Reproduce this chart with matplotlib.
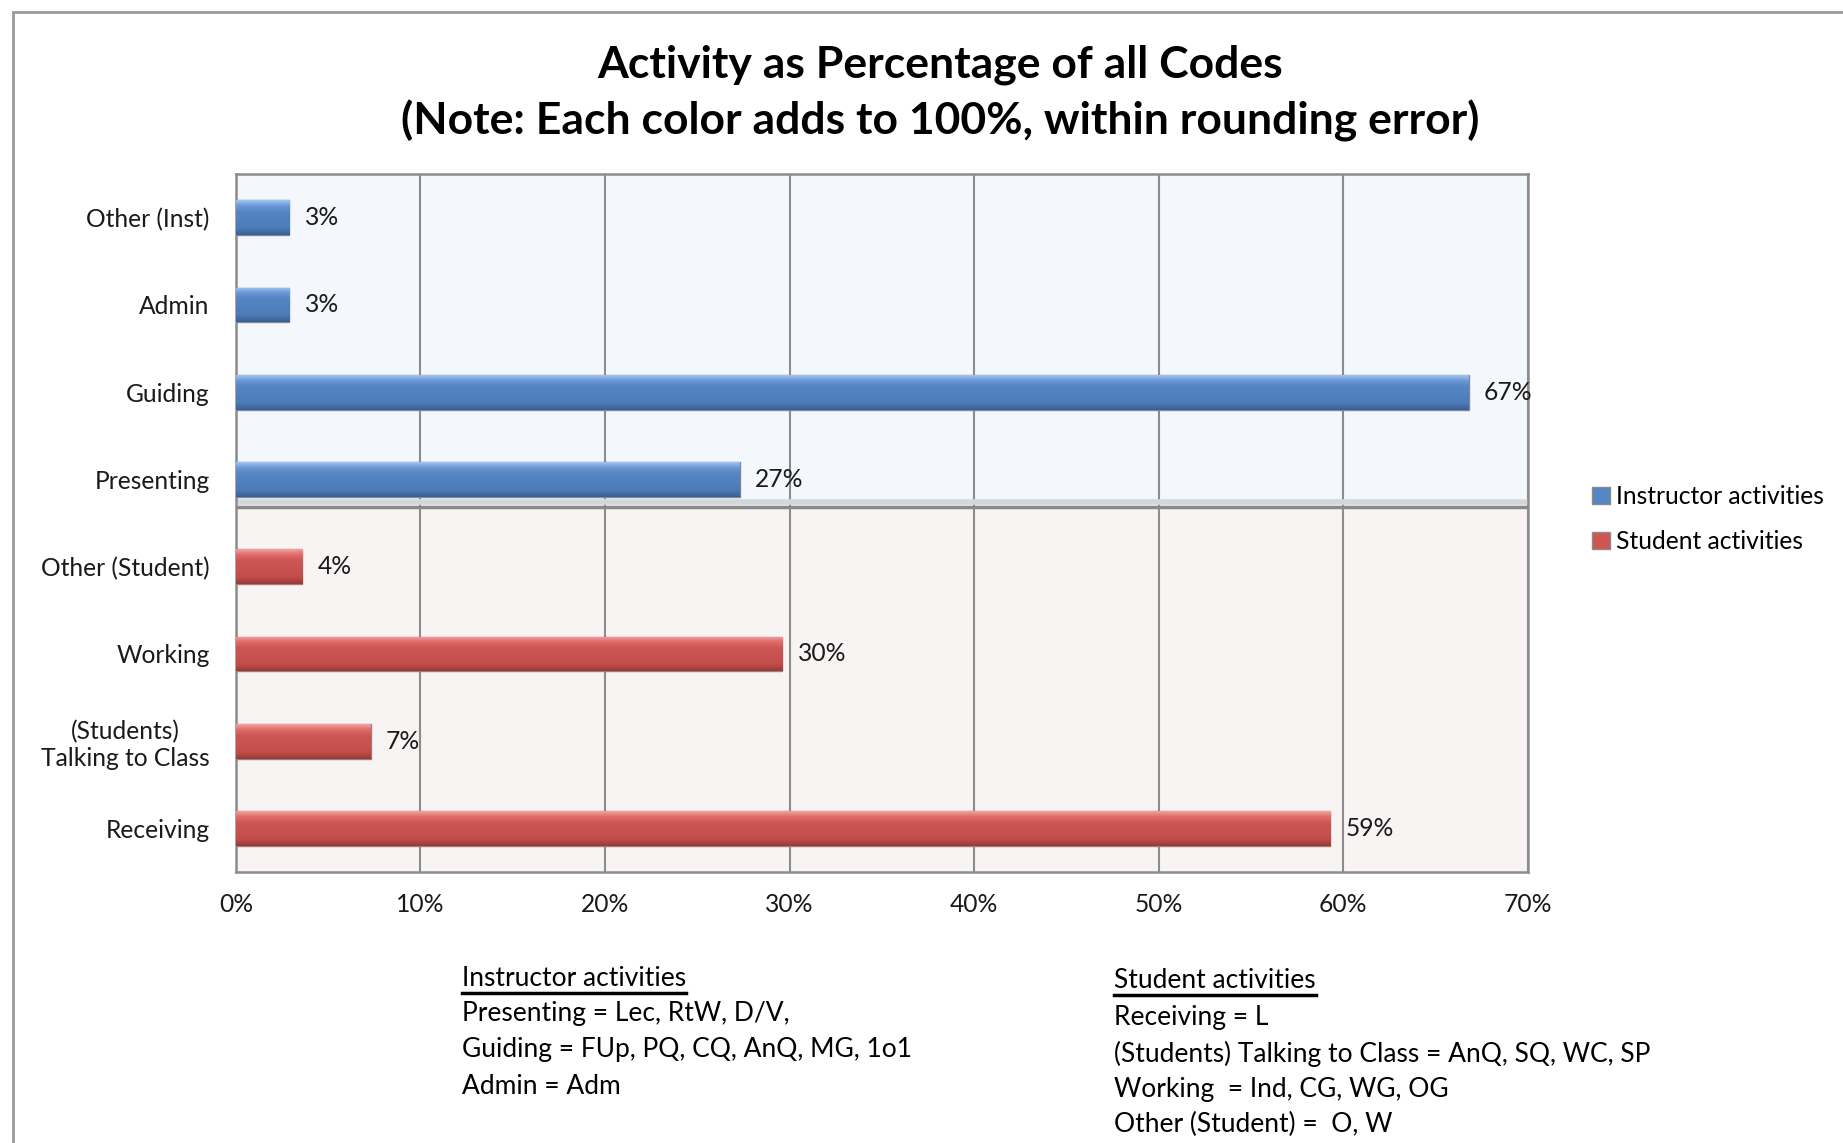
import numpy as np
import matplotlib
matplotlib.use("Agg")
import matplotlib.pyplot as plt
from matplotlib.colors import LinearSegmentedColormap
from matplotlib.patches import Rectangle
from matplotlib.lines import Line2D

plt.rcParams['font.family'] = ['Lato', 'DejaVu Sans']

# categories, bottom to top
categories = ['Receiving', '(Students)\nTalking to Class', 'Working', 'Other (Student)',
              'Presenting', 'Guiding', 'Admin', 'Other (Inst)']
student_values = [59.3, 7.3, 29.6, 3.6]        # Receiving .. Other (Student)
instructor_values = [27.3, 66.8, 2.9, 2.9]     # Presenting .. Other (Inst)
x_ticks = [0, 10, 20, 30, 40, 50, 60, 70]
x_tick_labels = [f'{t}%' for t in x_ticks]

title_lines = ['Activity as Percentage of all Codes',
               '(Note: Each color adds to 100%, within rounding error)']
inst_notes = ['Presenting = Lec, RtW, D/V,',
              'Guiding = FUp, PQ, CQ, AnQ, MG, 1o1',
              'Admin = Adm']
stud_notes = ['Receiving = L',
              '(Students) Talking to Class = AnQ, SQ, WC, SP',
              'Working  = Ind, CG, WG, OG',
              'Other (Student) =  O, W']

fs = 17.7

fig = plt.figure(figsize=(18.43, 11.43), dpi=100)
ax = fig.add_axes([0.128, 0.237, 0.701, 0.6107])

n_s = len(student_values)
y_student = np.arange(n_s)
y_inst = np.arange(n_s, n_s + len(instructor_values))
sep = n_s - 0.315

# backgrounds
ax.axhspan(-0.5, sep, color='#f8f4f4', zorder=0)
ax.axhspan(sep, len(categories) - 0.5, color='#f4f7fb', zorder=0)

bar_h = 0.4
b_inst = ax.barh(y_inst, instructor_values, height=bar_h, color='#5585c5',
                 edgecolor='#7f8a99', linewidth=1.0, zorder=3, label='Instructor activities')
b_stud = ax.barh(y_student, student_values, height=bar_h, color='#cd5553',
                 edgecolor='#9a7f7e', linewidth=1.0, zorder=3, label='Student activities')

# glossy vertical shading clipped to each bar
cm_blue = LinearSegmentedColormap.from_list('b', [(0, '#9fc4ee'), (0.16, '#6a98d6'), (0.33, '#5585c3'),
                                                   (0.8, '#4d7cb9'), (1, '#3a6094')])
cm_red = LinearSegmentedColormap.from_list('r', [(0, '#f3a09e'), (0.16, '#e06b68'), (0.33, '#cd5654'),
                                                  (0.8, '#c24e4b'), (1, '#983a38')])
grad = np.linspace(0, 1, 64).reshape(-1, 1)
for bars, cm in [(b_inst, cm_blue), (b_stud, cm_red)]:
    for p in bars.patches:
        x0, y0, w, h = p.get_x(), p.get_y(), p.get_width(), p.get_height()
        im = ax.imshow(grad, cmap=cm, extent=[x0, x0 + w, y0, y0 + h], aspect='auto',
                       origin='upper', zorder=3.5)
        im.set_clip_path(p)
    ax.bar_label(bars, labels=[f'{v:.0f}%' for v in bars.datavalues], padding=11,
                 fontsize=fs, color='#1a1a1a', zorder=5)

# separator "floor"
ax.axhline(sep + 0.06, color='#d3d7dc', lw=4, zorder=2)
ax.axhline(sep, color='#8a8a8a', lw=2.5, zorder=2)

ax.set_xlim(0, 70)
ax.set_ylim(-0.5, len(categories) - 0.5)
ax.set_xticks(x_ticks)
ax.set_xticklabels(x_tick_labels)
ax.set_yticks(np.arange(len(categories)))
ax.set_yticklabels(categories, linespacing=1.2)
ax.tick_params(axis='both', length=0, labelsize=fs, colors='#1a1a1a')
ax.tick_params(axis='y', pad=19)
for lab in ax.get_yticklabels():
    lab.set_horizontalalignment('right')
    lab.set_multialignment('center')
ax.tick_params(axis='x', pad=15)
ax.grid(axis='x', color='#8c8c8c', lw=1.5, zorder=1)
ax.set_axisbelow(True)
for s in ax.spines.values():
    s.set_color('#8c8c8c')
    s.set_linewidth(1.8)

# legend
leg = fig.legend(handles=[b_inst, b_stud], loc='center left', bbox_to_anchor=(0.852, 0.546),
                 frameon=False, fontsize=fs, handlelength=0.7, handleheight=0.7,
                 handletextpad=0.25, labelspacing=0.9)
for h in leg.legend_handles:
    h.set_edgecolor('#8c8c8c')

# title
fig.text(0.51, 1 - 65 / 1143, title_lines[0], ha='center', va='center', fontsize=32, fontweight='bold')
fig.text(0.51, 1 - 121 / 1143, title_lines[1], ha='center', va='center', fontsize=32, fontweight='bold')

# notes under the chart
notes_fs = 19
h1 = fig.text(462 / 1843, 1 - 979 / 1143, 'Instructor activities', ha='left', va='center', fontsize=notes_fs)
for i, t in enumerate(inst_notes):
    fig.text(462 / 1843, 1 - (1014 + 36 * i) / 1143, t, ha='left', va='center', fontsize=notes_fs)
h2 = fig.text(1114 / 1843, 1 - 981 / 1143, 'Student activities', ha='left', va='center', fontsize=notes_fs)
for i, t in enumerate(stud_notes):
    fig.text(1114 / 1843, 1 - (1018 + 35.5 * i) / 1143, t, ha='left', va='center', fontsize=notes_fs)

# underline the two headers
fig.canvas.draw()
r = fig.canvas.get_renderer()
for h in (h1, h2):
    bb = h.get_window_extent(r).transformed(fig.transFigure.inverted())
    fig.add_artist(Line2D([bb.x0, bb.x1], [bb.y0 - 0.001, bb.y0 - 0.001], color='black', lw=2.5,
                          transform=fig.transFigure))

# outer chart border (continues past right and bottom edge)
fig.add_artist(Rectangle((13 / 1843, -0.1), 1.1, 1.1 - 12 / 1143, transform=fig.transFigure,
                         fill=False, edgecolor='#9a9a9a', lw=2))

fig.savefig('out.png', dpi=100)
